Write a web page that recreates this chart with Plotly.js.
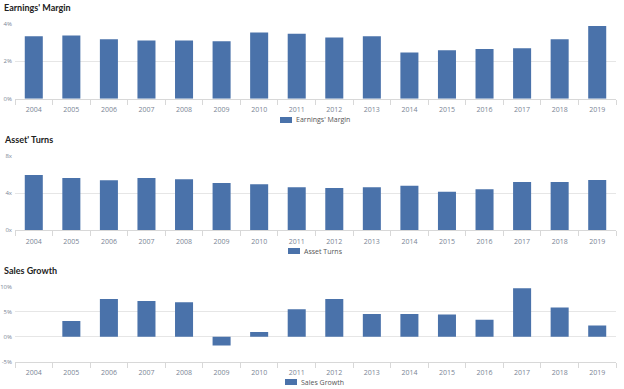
<!DOCTYPE html>
<html><head><meta charset="utf-8">
<script src="https://cdn.plot.ly/plotly-3.0.1.min.js"></script>
<style>html,body{margin:0;padding:0;background:#fff}#c{width:624px;height:389px}</style>
</head><body><div id="c"></div>
<script>
var years = ["2004","2005","2006","2007","2008","2009","2010","2011","2012","2013","2014","2015","2016","2017","2018","2019"];
var earningsMargin = [3.35,3.39,3.18,3.12,3.12,3.08,3.55,3.48,3.28,3.35,2.48,2.59,2.66,2.70,3.19,3.89];
var assetTurns = [5.93,5.60,5.36,5.60,5.47,5.07,4.93,4.61,4.53,4.61,4.78,4.14,4.39,5.18,5.18,5.39];
var salesGrowth = [null,3.15,7.6,7.2,6.96,-1.75,0.94,5.55,7.6,4.6,4.6,4.48,3.41,9.77,5.9,2.28];
var marginTicks = [0,2,4], marginTickText = ["0%","2%","4%"];
var turnsTicks = [0,4,8], turnsTickText = ["0x","4x","8x"];
var growthTicks = [-5,0,5,10], growthTickText = ["-5%","0%","5%","10%"];
var seriesNames = ["Earnings' Margin","Asset Turns","Sales Growth"];
var panelTitles = ["Earnings' Margin","Asset' Turns","Sales Growth"];

var H = 389, L = 15, R = 616;
function py(px){ return 1 - px/H; }
function pxx(px){ return (px - L)/(R - L); }
var barColor = "#4a72aa";
var tickFont = {family:"Open Sans, sans-serif", size:6, color:"#7a8595"};
var xTickFont = {family:"Open Sans, sans-serif", size:7, color:"#7a8595"};

function xax(anchor){
  return {type:"category", anchor:anchor, showgrid:false, ticks:"outside", tickson:"boundaries",
    ticklen:5, tickcolor:"#d8d8d8", showline:true, linecolor:"#d8d8d8", linewidth:1,
    tickfont:xTickFont, ticklabelstandoff:4, fixedrange:true, zeroline:false};
}
function yax(dom, rng, tv, tt){
  return {domain:dom, range:rng, tickvals:tv, ticktext:tt, showgrid:true, gridcolor:"#e6e6e6",
    zeroline:false, tickfont:tickFont, ticks:"", showline:false, fixedrange:true, ticklabelstandoff:2};
}

var traces = [
  {type:"bar", x:years, y:earningsMargin, name:seriesNames[0], marker:{color:barColor}, xaxis:"x", yaxis:"y"},
  {type:"bar", x:years, y:assetTurns, name:seriesNames[1], marker:{color:barColor}, xaxis:"x2", yaxis:"y2"},
  {type:"bar", x:years, y:salesGrowth, name:seriesNames[2], marker:{color:barColor}, xaxis:"x3", yaxis:"y3"}
];

var titleFont = {family:"Lato, sans-serif", size:9, color:"#222"};
var legFont = {family:"Open Sans, sans-serif", size:7, color:"#555"};
var titleY = [8, 139, 270];
var legY = [120, 251, 382];
var legSwatchX = [280, 288, 285];

var annotations = [], shapes = [];
for (var i = 0; i < 3; i++) {
  annotations.push({text:"<b>"+panelTitles[i]+"</b>", xref:"paper", yref:"paper", x:pxx(2), xanchor:"left",
    y:py(titleY[i]), yanchor:"middle", showarrow:false, font:titleFont});
  annotations.push({text:seriesNames[i], xref:"paper", yref:"paper", x:pxx(legSwatchX[i]+14), xanchor:"left",
    y:py(legY[i]), yanchor:"middle", showarrow:false, font:legFont});
  shapes.push({type:"rect", xref:"paper", yref:"paper", x0:pxx(legSwatchX[i]), x1:pxx(legSwatchX[i]+12),
    y0:py(legY[i]+3), y1:py(legY[i]-3), fillcolor:barColor, line:{width:0}});
}

var layout = {
  width:624, height:389, margin:{l:L, r:624-R, t:0, b:0},
  paper_bgcolor:"#fff", plot_bgcolor:"#fff", showlegend:false, bargap:0.52,
  xaxis: xax("y"), xaxis2: xax("y2"), xaxis3: xax("y3"),
  yaxis: yax([py(98.7), py(24)], [0,4], marginTicks, marginTickText),
  yaxis2: yax([py(230.3), py(155.7)], [0,8], turnsTicks, turnsTickText),
  yaxis3: yax([py(361.7), py(287)], [-5,10], growthTicks, growthTickText),
  annotations: annotations, shapes: shapes
};
Plotly.newPlot("c", traces, layout, {displayModeBar:false, staticPlot:true});
</script></body></html>
